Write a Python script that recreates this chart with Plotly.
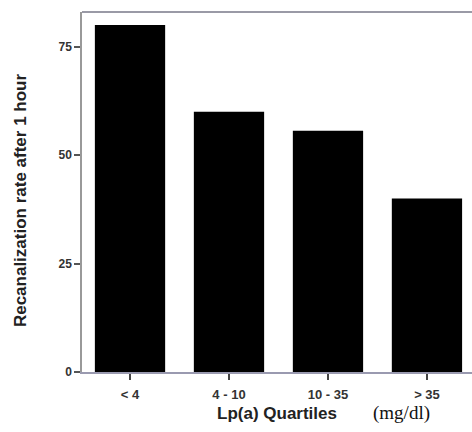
import plotly.graph_objects as go

# Lp(a) quartile groups and recanalization rate (%) after 1 hour
quartiles = ["< 4", "4 - 10", "10 - 35", "> 35"]
recanalization = [80, 60, 55.6, 40]
y_ticks = [0, 25, 50, 75]

fig = go.Figure(
    go.Bar(
        x=quartiles,
        y=recanalization,
        marker=dict(color="black", line=dict(color="black", width=0)),
        width=0.71,
    )
)

fig.update_layout(
    width=472,
    height=432,
    margin=dict(l=82, r=0, t=12, b=60),
    paper_bgcolor="white",
    plot_bgcolor="white",
    showlegend=False,
    font=dict(family="Liberation Sans, Arial, sans-serif", color="#222"),
)

fig.update_xaxes(
    type="category",
    range=[-0.485, 3.455],
    showline=True,
    linecolor="#9a9ab0",
    linewidth=1.5,
    ticks="outside",
    ticklen=6,
    tickwidth=1.5,
    tickcolor="#444",
    tickfont=dict(size=13, weight=700, color="#333"),
    ticklabelstandoff=4,
    showgrid=False,
    title=dict(
        text="Lp(a) Quartiles",
        font=dict(size=17, weight=700, color="#222"),
        standoff=6,
    ),
)

fig.update_yaxes(
    range=[0, 83],
    tickvals=y_ticks,
    showline=True,
    linecolor="#999",
    linewidth=1.5,
    ticks="outside",
    ticklen=6,
    tickwidth=1.5,
    tickcolor="#555",
    tickfont=dict(size=12, weight=700, color="#333"),
    showgrid=False,
    zeroline=False,
)

# y-axis title, placed slightly below the plot's vertical centre
fig.add_annotation(
    text="Recanalization rate after 1 hour",
    xref="paper",
    yref="paper",
    x=-0.156,
    y=0.478,
    xanchor="center",
    yanchor="middle",
    textangle=-90,
    showarrow=False,
    font=dict(size=17, weight=700, color="#222"),
)

# top frame line across the plot area
fig.add_shape(
    type="line",
    xref="paper",
    yref="paper",
    x0=0,
    x1=1,
    y0=1,
    y1=1,
    line=dict(color="#9a9aa6", width=2),
)

fig.add_annotation(
    text="(mg/dl)",
    xref="paper",
    yref="paper",
    x=0.74,
    y=-0.115,
    xanchor="left",
    yanchor="middle",
    showarrow=False,
    font=dict(family="Liberation Serif, Times New Roman, serif", size=19, color="#111"),
)

fig.write_html("out.html")
